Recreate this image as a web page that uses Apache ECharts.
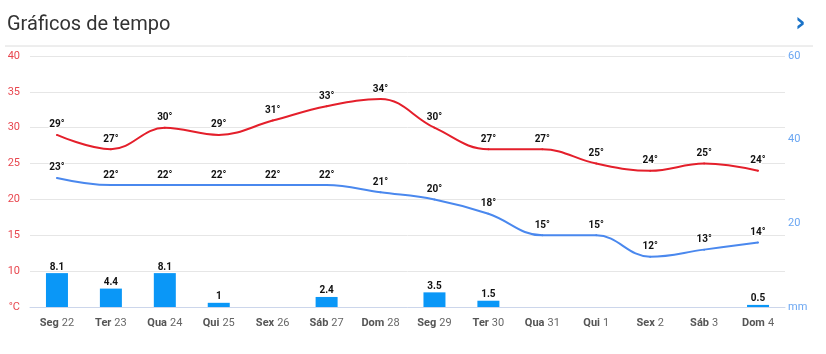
<!DOCTYPE html>
<html>
<head>
<meta charset="utf-8">
<script src="https://cdn.jsdelivr.net/npm/echarts@6/dist/echarts.min.js"></script>
<style>
  html, body { margin: 0; padding: 0; background: #fff; }
  #main { width: 826px; height: 354px; }
</style>
</head>
<body>
<div id="main"></div>
<script>
// dias
const days = ["Seg", "Ter", "Qua", "Qui", "Sex", "Sáb", "Dom", "Seg", "Ter", "Qua", "Qui", "Sex", "Sáb", "Dom"];
const dates = ["22", "23", "24", "25", "26", "27", "28", "29", "30", "31", "1", "2", "3", "4"];
// temperaturas (°C)
const maxTemp = [29, 27, 30, 29, 31, 33, 34, 30, 27, 27, 25, 24, 25, 24];
const minTemp = [23, 22, 22, 22, 22, 22, 21, 20, 18, 15, 15, 12, 13, 14];
// precipitacao (mm), null = sem chuva
const rain = [8.1, 4.4, 8.1, 1, null, 2.4, null, 3.5, 1.5, null, null, null, null, 0.5];

const categories = days.map((d, i) => d + " " + dates[i]);

const chart = echarts.init(document.getElementById("main"));

const pointLabel = {
  show: true,
  position: "top",
  distance: 4,
  formatter: "{c}°",
  fontSize: 10,
  fontWeight: "bold",
  fontFamily: "Roboto",
  color: "#111",
  textBorderColor: "#fff",
  textBorderWidth: 2
};

const option = {
  animation: false,
  textStyle: { fontFamily: "Roboto" },
  title: {
    text: "Gráficos de tempo",
    left: 2,
    top: 10,
    textStyle: { fontSize: 20, fontWeight: "normal", color: "#333", fontFamily: "Roboto" }
  },
  graphic: [
    {
      type: "line",
      shape: { x1: 5, y1: 46, x2: 813, y2: 46 },
      style: { stroke: "#dcdcdc", lineWidth: 1 }
    },
    {
      type: "text",
      left: 795,
      top: 11,
      style: { text: "›", fontSize: 26, fontWeight: "bold", fill: "#1a73c8", fontFamily: "DejaVu Sans" }
    }
  ],
  grid: { left: 30, right: 41, top: 56, bottom: 47 },
  xAxis: {
    type: "category",
    data: categories,
    boundaryGap: true,
    axisLine: { lineStyle: { color: "#ccd6eb" } },
    axisTick: { alignWithLabel: true, interval: 0, length: 6, lineStyle: { color: "#ccd6eb" } },
    axisLabel: {
      interval: 0,
      margin: 10,
      formatter: function (v) {
        const p = v.split(" ");
        return "{d|" + p[0] + "} {n|" + p[1] + "}";
      },
      rich: {
        d: { fontSize: 11, fontWeight: "bold", color: "#555", fontFamily: "Roboto" },
        n: { fontSize: 11, color: "#666", fontFamily: "Roboto" }
      }
    }
  },
  yAxis: [
    {
      type: "value",
      min: 5,
      max: 40,
      interval: 5,
      axisLine: { show: false },
      axisTick: { show: false },
      splitLine: { lineStyle: { color: "#e6e6e6" } },
      axisLabel: {
        margin: 10,
        fontSize: 11,
        color: "#e8474f",
        formatter: v => (v === 5 ? "°C" : v)
      }
    },
    {
      type: "value",
      min: 0,
      max: 60,
      interval: 20,
      axisLine: { show: false },
      axisTick: { show: false },
      splitLine: { show: false },
      axisLabel: {
        margin: 3,
        fontSize: 11,
        color: "#6aa6f2",
        formatter: v => (v === 0 ? "mm" : v)
      }
    }
  ],
  series: [
    {
      name: "Precipitação",
      type: "bar",
      yAxisIndex: 1,
      data: rain,
      barWidth: 22,
      itemStyle: { color: "#0a97f7" },
      label: {
        show: true,
        position: "top",
        distance: 1,
        fontSize: 10,
        fontWeight: "bold",
        color: "#111",
        textBorderColor: "#fff",
        textBorderWidth: 2
      },
      z: 1
    },
    {
      name: "Máxima",
      type: "line",
      data: maxTemp,
      smooth: 0.4,
      showSymbol: true,
      symbol: "circle",
      symbolSize: 2,
      lineStyle: { color: "#e41f2b", width: 2 },
      itemStyle: { color: "#e41f2b" },
      label: pointLabel,
      z: 3
    },
    {
      name: "Mínima",
      type: "line",
      data: minTemp,
      smooth: 0.4,
      showSymbol: true,
      symbol: "circle",
      symbolSize: 2,
      lineStyle: { color: "#4a88ee", width: 2 },
      itemStyle: { color: "#4a88ee" },
      label: pointLabel,
      z: 3
    }
  ]
};

chart.setOption(option);
</script>
</body>
</html>
